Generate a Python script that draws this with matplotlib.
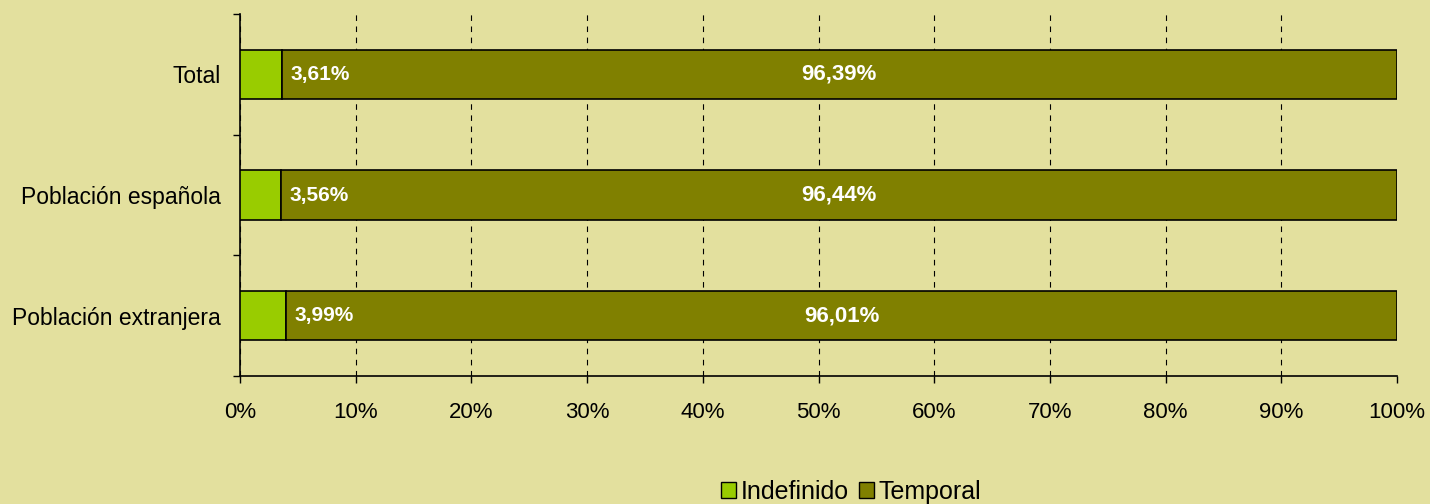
import matplotlib
matplotlib.use("Agg")
import matplotlib.pyplot as plt
from matplotlib.patches import Patch
from matplotlib.ticker import FixedLocator

categories = ["Total", "Población española", "Población extranjera"]
indefinido = [3.61, 3.56, 3.99]
temporal = [96.39, 96.44, 96.01]
xticks = [0, 10, 20, 30, 40, 50, 60, 70, 80, 90, 100]

bg = "#E3E09E"
c_ind = "#99CC00"
c_tmp = "#808000"

plt.rcParams['font.family'] = ['Liberation Sans', 'DejaVu Sans']

fig = plt.figure(figsize=(14.3, 5.04), dpi=100, facecolor=bg)
ax = fig.add_axes([240/1430, 1-376/504, (1397-240)/1430, (376-14)/504])
ax.set_facecolor(bg)

y = list(range(len(categories)))
h = 0.41
ax.barh(y, indefinido, height=h, color=c_ind, edgecolor="black", linewidth=1.2, zorder=3)
ax.barh(y, temporal, left=indefinido, height=h, color=c_tmp, edgecolor="black", linewidth=1.2, zorder=3)

for yi, a, b in zip(y, indefinido, temporal):
    ax.text(a + 0.75, yi, f"{a:.2f}%".replace(".", ","), color="white", fontweight="bold",
            fontsize=15, va="center", ha="left", zorder=4)
    ax.text(a + b / 2, yi, f"{b:.2f}%".replace(".", ","), color="white", fontweight="bold",
            fontsize=16, va="center", ha="center", zorder=4)

ax.set_xlim(0, 100)
ax.set_ylim(2.5, -0.5)
ax.set_xticks(xticks)
ax.set_xticklabels([f"{t}%" for t in xticks], fontsize=16)
ax.set_yticks(y)
ax.set_yticklabels(categories, fontsize=16.5)
ax.yaxis.set_minor_locator(FixedLocator([-0.5, 0.5, 1.5, 2.5]))
ax.tick_params(axis="y", which="major", length=0, pad=14)
ax.tick_params(axis="y", which="minor", length=5, direction="out", width=1)
ax.tick_params(axis="x", which="major", length=5, direction="out", width=1, pad=14)
ax.grid(axis="x", color="black", linestyle=(0, (5, 5)), linewidth=0.8, zorder=0)
gl = ax.get_xgridlines()
if gl:
    gl[-1].set_visible(False)
for s in ["top", "right"]:
    ax.spines[s].set_visible(False)
for s in ["left", "bottom"]:
    ax.spines[s].set_linewidth(1.2)

handles = [Patch(facecolor=c_ind, edgecolor="black", label="Indefinido"),
           Patch(facecolor=c_tmp, edgecolor="black", label="Temporal")]
fig.legend(handles=handles, loc="center", bbox_to_anchor=(851/1430, 1-492/504), ncol=2,
           frameon=False, fontsize=18, handlelength=0.6, handleheight=0.6,
           handletextpad=0.2, columnspacing=0.4, borderpad=0)

fig.savefig("out.png", dpi=100, facecolor=bg)
